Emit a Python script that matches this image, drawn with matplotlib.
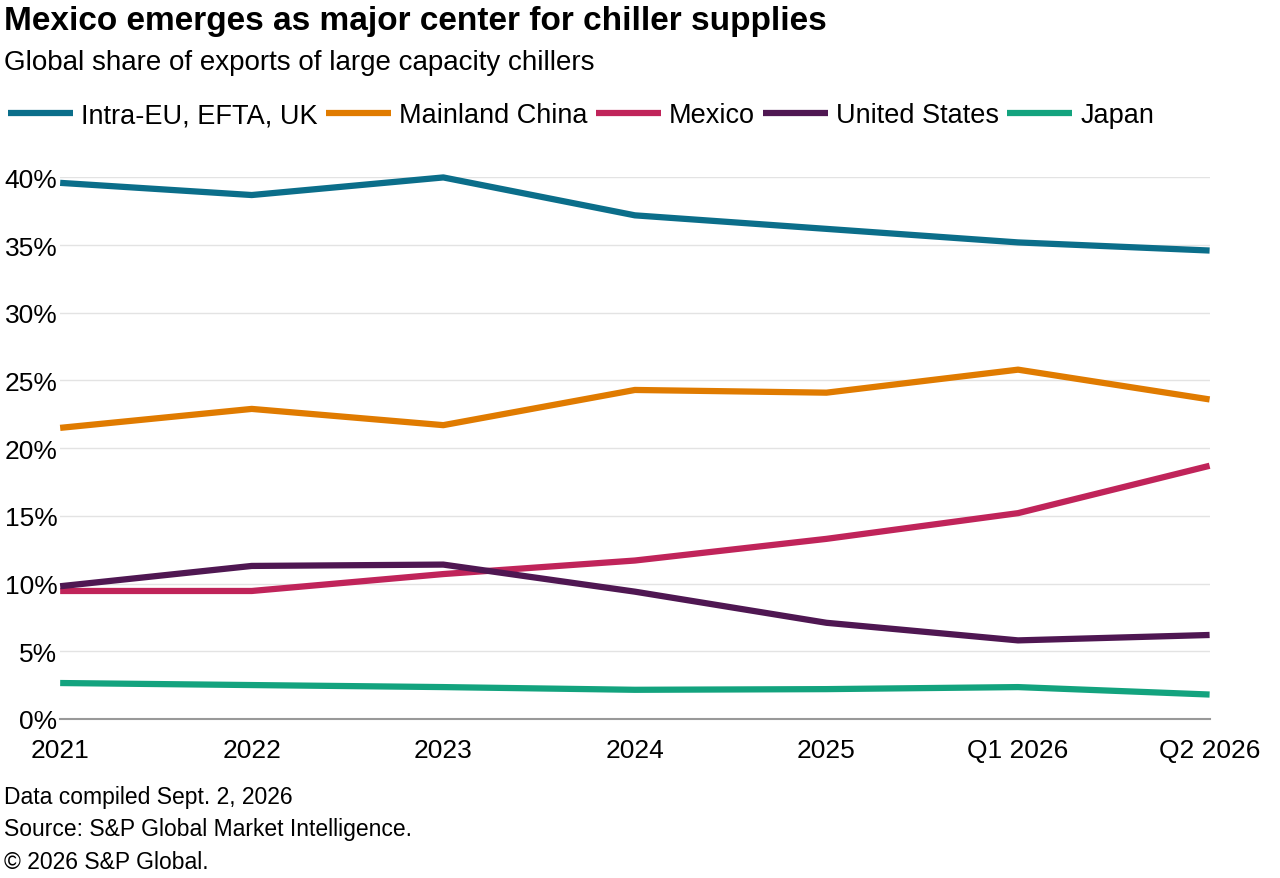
import matplotlib
matplotlib.use("Agg")
import matplotlib.pyplot as plt
from matplotlib.ticker import FuncFormatter

plt.rcParams["font.family"] = ["Liberation Sans", "DejaVu Sans"]

periods = ["2021", "2022", "2023", "2024", "2025", "Q1 2026", "Q2 2026"]
intra_eu = [39.6, 38.7, 40.0, 37.2, 36.2, 35.2, 34.6]
china = [21.5, 22.9, 21.7, 24.3, 24.1, 25.8, 23.6]
mexico = [9.45, 9.45, 10.7, 11.7, 13.3, 15.2, 18.7]
united_states = [9.8, 11.3, 11.4, 9.4, 7.1, 5.8, 6.2]
japan = [2.65, 2.5, 2.35, 2.15, 2.2, 2.35, 1.8]

series = [
    ("Intra-EU, EFTA, UK", intra_eu, "#0b6e8a"),
    ("Mainland China", china, "#e07b00"),
    ("Mexico", mexico, "#c0245a"),
    ("United States", united_states, "#4f1752"),
    ("Japan", japan, "#13a37e"),
]

fig = plt.figure(figsize=(12.8, 8.79), dpi=100)
ax = fig.add_axes([0.047, 0.181, 0.898, 0.616])
x = range(len(periods))
handles = []
for name, vals, color in series:
    (h,) = ax.plot(x, vals, color=color, lw=4.5, label=name, clip_on=False,
                   solid_capstyle="butt")
    handles.append(h)

ax.set_xlim(0, len(periods) - 1)
ax.set_ylim(0, 40)
ax.set_yticks(range(0, 41, 5))
ax.yaxis.set_major_formatter(FuncFormatter(lambda v, p: f"{v:.0f}%"))
ax.set_xticks(list(x))
ax.set_xticklabels(periods)
ax.grid(axis="y", color="#e3e3e3", lw=1)
ax.set_axisbelow(True)
for s in ["top", "right", "left"]:
    ax.spines[s].set_visible(False)
ax.spines["bottom"].set_color("#999999")
ax.spines["bottom"].set_linewidth(1.5)
ax.tick_params(axis="both", length=0, labelsize=19, colors="black")
ax.tick_params(axis="x", pad=14)
ax.tick_params(axis="y", pad=2)

fig.text(0.003, 0.976, "Mexico emerges as major center for chiller supplies",
         fontsize=24, fontweight="bold", va="center")
fig.text(0.003, 0.928, "Global share of exports of large capacity chillers",
         fontsize=20, va="center")
fig.legend(handles=handles, loc="center left", bbox_to_anchor=(0.0, 0.868),
           ncol=5, frameon=False, fontsize=19.5, handlelength=2.4,
           handletextpad=0.3, columnspacing=0.3, borderaxespad=0,
           borderpad=0.3)

fig.text(0.003, 0.093, "Data compiled Sept. 2, 2026", fontsize=16.5, va="center")
fig.text(0.003, 0.056, "Source: S&P Global Market Intelligence.", fontsize=16.5, va="center")
fig.text(0.003, 0.019, "\u00a9 2026 S&P Global.", fontsize=16.5, va="center")

fig.savefig("out.png", dpi=100)
